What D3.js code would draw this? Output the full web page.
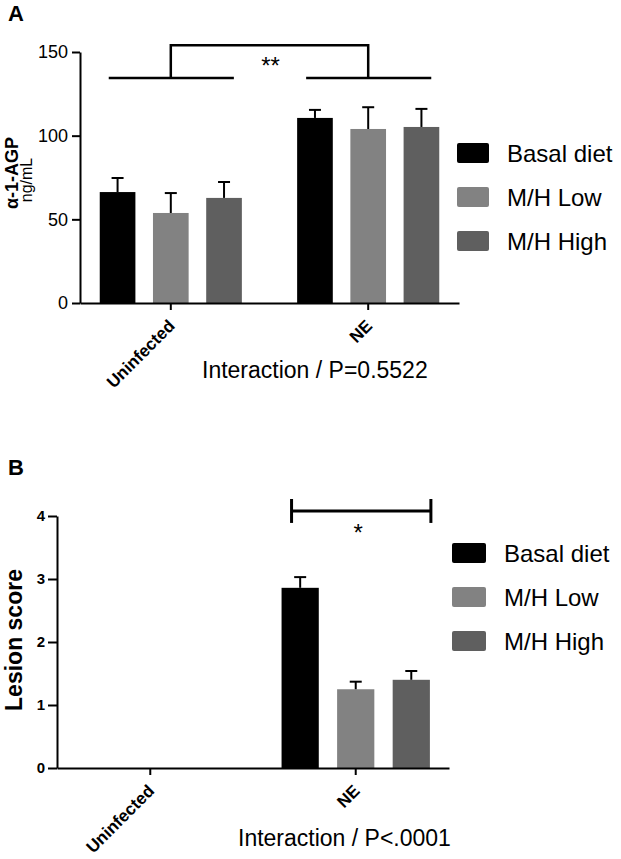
<!DOCTYPE html>
<html>
<head>
<meta charset="utf-8">
<script src="https://cdn.jsdelivr.net/npm/d3@7"></script>
<style>
  body { margin: 0; background: #fff; }
  svg { display: block; font-family: "Liberation Sans", Arial, sans-serif; }
</style>
</head>
<body>
<div id="chart"></div>
<script>
// groups / series
var groups = ["Uninfected", "NE"];
var series = ["Basal diet", "M/H Low", "M/H High"];
var seriesColors = ["#000000", "#828282", "#5f5f5f"];

// panel A: alpha-1-AGP (ng/mL), mean and upper error
var agpMeans = [[66.3, 53.8, 62.8], [110.6, 104.0, 105.2]];
var agpErrors = [[8.4, 11.9, 9.5], [4.8, 13.0, 10.8]];
var agpTicks = [0, 50, 100, 150];

// panel B: lesion score
var lesionMeans = [[0, 0, 0], [2.86, 1.25, 1.40]];
var lesionErrors = [[0, 0, 0], [0.17, 0.12, 0.14]];
var lesionTicks = [0, 1, 2, 3, 4];

var width = 621, height = 859;

var svg = d3.select("#chart").append("svg")
    .attr("width", width)
    .attr("height", height);

function drawPanel(cfg) {
    var g = svg.append("g");

    var y = d3.scaleLinear().domain([0, cfg.yMax]).range([cfg.bottom, cfg.top]);

    var x = d3.scaleBand()
        .domain(groups)
        .range([cfg.left, cfg.right])
        .paddingInner(cfg.padInner)
        .paddingOuter(cfg.padOuter);

    var xs = d3.scaleBand()
        .domain(series)
        .range([0, x.bandwidth()])
        .paddingInner(0.33)
        .paddingOuter(0);

    // bars
    var rows = [];
    groups.forEach(function(grp, gi) {
        series.forEach(function(s, si) {
            rows.push({group: grp, series: s, si: si, mean: cfg.means[gi][si], err: cfg.errors[gi][si]});
        });
    });

    g.selectAll("rect.bar")
        .data(rows)
        .enter().append("rect")
        .attr("class", "bar")
        .attr("x", function(d) { return x(d.group) + xs(d.series); })
        .attr("y", function(d) { return y(d.mean); })
        .attr("width", xs.bandwidth())
        .attr("height", function(d) { return y(0) - y(d.mean); })
        .attr("fill", function(d) { return seriesColors[d.si]; });

    // error bars (upper only)
    var eb = g.selectAll("g.err")
        .data(rows.filter(function(d) { return d.err > 0; }))
        .enter().append("g")
        .attr("class", "err")
        .attr("stroke", "#000")
        .attr("stroke-width", 2);
    eb.append("line")
        .attr("x1", function(d) { return x(d.group) + xs(d.series) + xs.bandwidth() / 2; })
        .attr("x2", function(d) { return x(d.group) + xs(d.series) + xs.bandwidth() / 2; })
        .attr("y1", function(d) { return y(d.mean); })
        .attr("y2", function(d) { return y(d.mean + d.err); });
    eb.append("line")
        .attr("x1", function(d) { return x(d.group) + xs(d.series) + xs.bandwidth() / 2 - 6; })
        .attr("x2", function(d) { return x(d.group) + xs(d.series) + xs.bandwidth() / 2 + 6; })
        .attr("y1", function(d) { return y(d.mean + d.err); })
        .attr("y2", function(d) { return y(d.mean + d.err); });

    // y axis
    var ya = g.append("g")
        .attr("transform", "translate(" + cfg.left + ",0)")
        .call(d3.axisLeft(y).tickValues(cfg.ticks).tickFormat(d3.format("d"))
            .tickSize(cfg.yTickSize).tickSizeOuter(0).tickPadding(cfg.yTickPad));
    ya.select(".domain").attr("stroke-width", 2);
    ya.selectAll(".tick line").attr("stroke-width", 2);
    ya.selectAll("text")
        .attr("font-size", cfg.yTickFont + "px")
        .attr("font-weight", cfg.yTickWeight)
        .attr("fill", "#000")
        .attr("font-family", "Liberation Sans, Arial, sans-serif");

    // x axis
    var xa = g.append("g")
        .attr("transform", "translate(0," + cfg.bottom + ")")
        .call(d3.axisBottom(x).tickSize(7).tickSizeOuter(0));
    xa.select(".domain").attr("stroke-width", 2);
    xa.selectAll(".tick line").attr("stroke-width", 2);
    xa.selectAll("text")
        .attr("font-size", "17px")
        .attr("font-weight", "bold")
        .attr("fill", "#000")
        .attr("font-family", "Liberation Sans, Arial, sans-serif")
        .attr("text-anchor", "end")
        .attr("x", 5).attr("y", 24).attr("dy", 0)
        .attr("transform", "rotate(-45,5,24)");

    // x title
    g.append("text")
        .attr("x", cfg.titleX)
        .attr("y", cfg.titleY)
        .attr("font-size", "23px")
        .text(cfg.xTitle);

    // panel letter
    g.append("text")
        .attr("x", 8)
        .attr("y", cfg.letterY)
        .attr("font-size", "22px")
        .attr("font-weight", "bold")
        .text(cfg.letter);

    // legend
    var lg = g.selectAll("g.leg")
        .data(series)
        .enter().append("g")
        .attr("class", "leg")
        .attr("transform", function(d, i) { return "translate(" + cfg.legX + "," + (cfg.legY + i * 44) + ")"; });
    lg.append("rect")
        .attr("x", 0).attr("y", -10)
        .attr("width", cfg.swW).attr("height", 20)
        .attr("rx", 2)
        .attr("fill", function(d, i) { return seriesColors[i]; });
    lg.append("text")
        .attr("x", cfg.swW + 18)
        .attr("y", 9)
        .attr("font-size", "24px")
        .text(function(d) { return d; });

    return {g: g, x: x, xs: xs, y: y};
}

// ---- Panel A ----
var A = drawPanel({
    means: agpMeans, errors: agpErrors, ticks: agpTicks, yMax: 150,
    left: 80, right: 459, top: 52, bottom: 303,
    padInner: 0.28, padOuter: 0.1,
    yTickSize: 8, yTickPad: 4, yTickFont: 18, yTickWeight: "normal",
    xTitle: "Interaction / P=0.5522", titleX: 202, titleY: 378,
    letter: "A", letterY: 21,
    legX: 457, legY: 153, swW: 32
});

// significance bracket A
(function() {
    var g = A.g, x = A.x, y = A.y;
    var topY = y(154), lowY = y(134.5);
    var cU = x("Uninfected") + x.bandwidth() / 2, cN = x("NE") + x.bandwidth() / 2;
    var br = g.append("g").attr("stroke", "#000").attr("stroke-width", 2.5).attr("fill", "none");
    br.append("path").attr("d", "M" + cU + "," + lowY + "V" + topY + "H" + cN + "V" + lowY);
    groups.forEach(function(grp) {
        br.append("line")
            .attr("x1", x(grp) + 9).attr("x2", x(grp) + x.bandwidth() - 8)
            .attr("y1", lowY).attr("y2", lowY);
    });
    g.append("text")
        .attr("x", (cU + cN) / 2 + 1)
        .attr("y", topY + 29)
        .attr("text-anchor", "middle")
        .attr("font-size", "24px")
        .text("**");
})();

// y title A
A.g.append("text")
    .attr("transform", "translate(18,173) rotate(-90)")
    .attr("text-anchor", "middle")
    .attr("font-size", "18px")
    .attr("font-weight", "bold")
    .text("\u03b1-1-AGP");
A.g.append("text")
    .attr("transform", "translate(32,180) rotate(-90)")
    .attr("text-anchor", "middle")
    .attr("font-size", "16px")
    .text("ng/mL");

// ---- Panel B ----
var B = drawPanel({
    means: lesionMeans, errors: lesionErrors, ticks: lesionTicks, yMax: 4,
    left: 57, right: 449, top: 516, bottom: 768,
    padInner: 0.278, padOuter: 0.093,
    yTickSize: 9, yTickPad: 3, yTickFont: 15, yTickWeight: "bold",
    xTitle: "Interaction / P<.0001", titleX: 238, titleY: 846,
    letter: "B", letterY: 475,
    legX: 452, legY: 553, swW: 34
});

// significance bracket B
(function() {
    var g = B.g, x = B.x, y = B.y, xs = B.xs;
    var lineY = y(4.08);
    var x1 = x("NE") + xs("Basal diet") + 10;
    var x2 = x("NE") + xs("M/H High") + xs.bandwidth() + 1;
    var br = g.append("g").attr("stroke", "#000").attr("stroke-width", 3).attr("fill", "none");
    br.append("line").attr("x1", x1).attr("x2", x2).attr("y1", lineY).attr("y2", lineY);
    [x1, x2].forEach(function(xx) {
        br.append("line").attr("x1", xx).attr("x2", xx).attr("y1", y(4.27)).attr("y2", y(3.89));
    });
    g.append("text")
        .attr("x", (x1 + x2) / 2 - 3)
        .attr("y", lineY + 30)
        .attr("text-anchor", "middle")
        .attr("font-size", "24px")
        .text("*");
})();

// y title B
B.g.append("text")
    .attr("transform", "translate(22,640) rotate(-90)")
    .attr("text-anchor", "middle")
    .attr("font-size", "23px")
    .attr("font-weight", "bold")
    .text("Lesion score");
</script>
</body>
</html>
